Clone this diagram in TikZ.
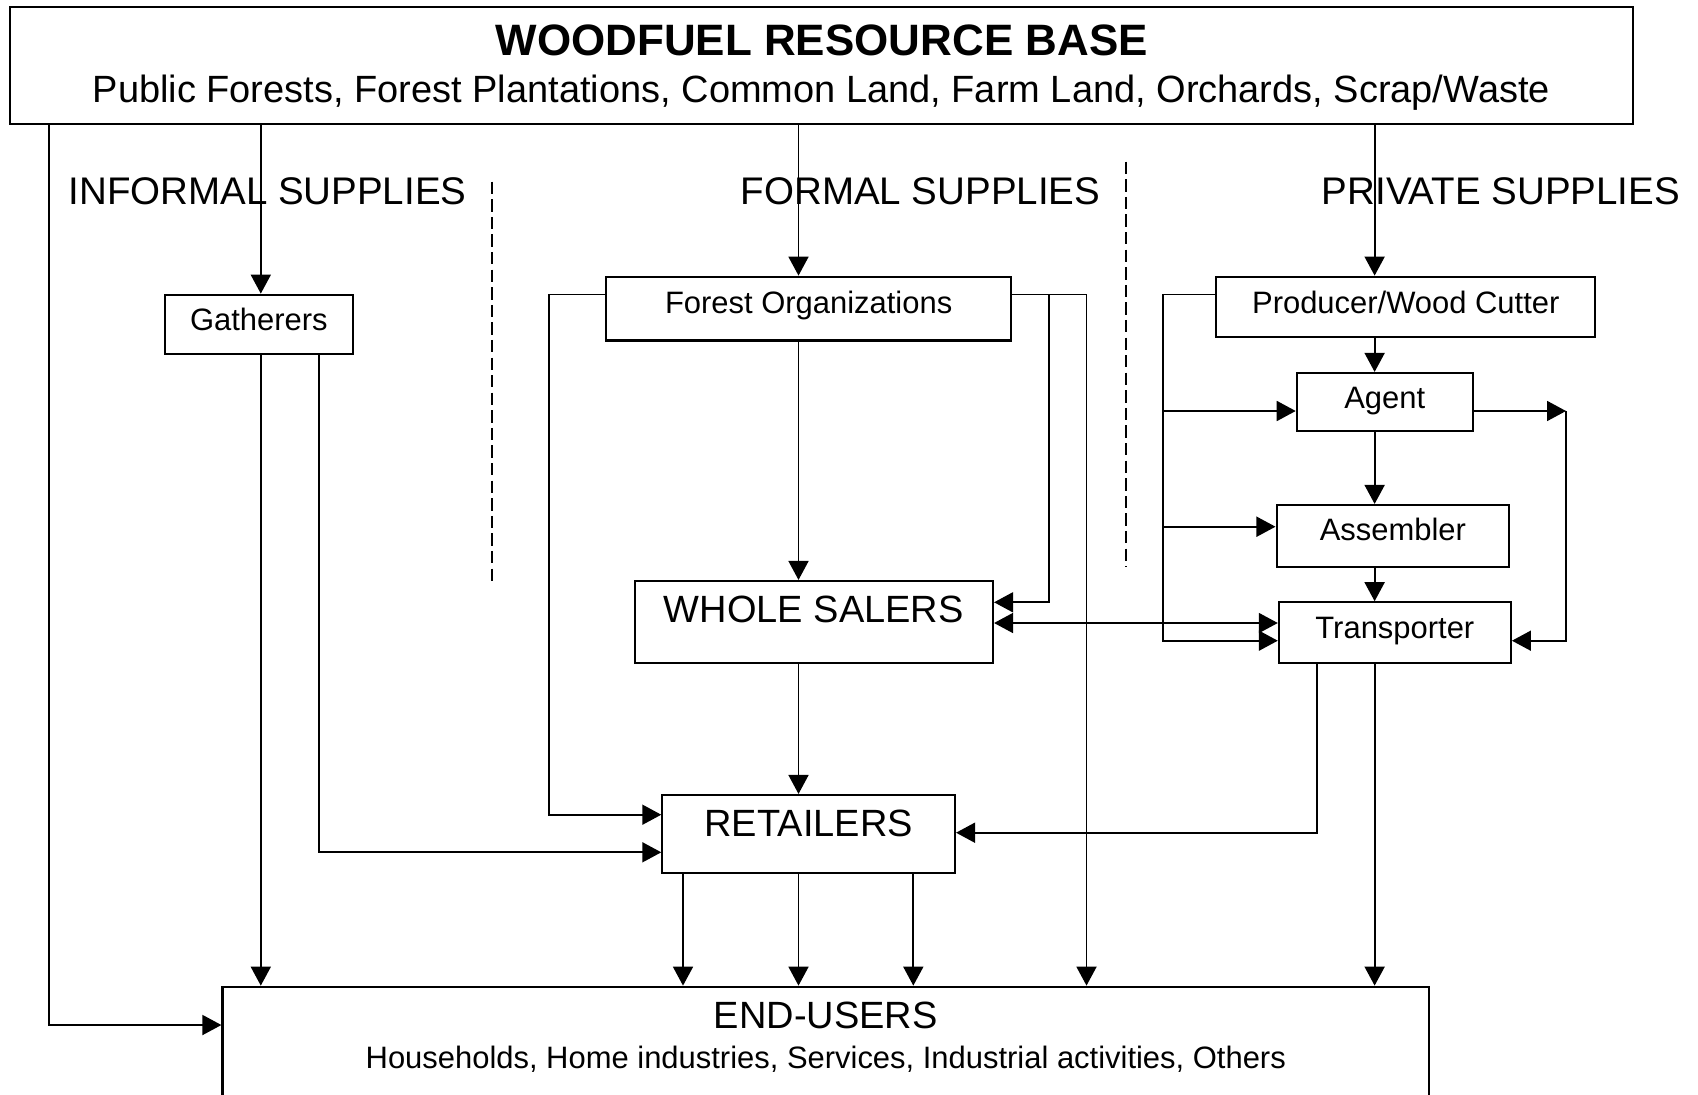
\documentclass[tikz,border=0pt]{standalone}
\usepackage{fontspec}
\setmainfont{Liberation Sans}
\usepackage{tikz}
\usetikzlibrary{arrows.meta}

\newcommand\ftitle{\fontsize{12.5}{15}\selectfont\bfseries}
\newcommand\fbig{\fontsize{10.8}{13}\selectfont}
\newcommand\fhead{\fontsize{10.95}{13}\selectfont}
\newcommand\fsmall{\fontsize{8.8}{10.5}\selectfont}

\begin{document}
\begin{tikzpicture}[
    x=0.01cm, y=-0.01cm,
    box/.style={draw, line width=0.6pt, inner sep=0pt, anchor=base, align=center},
    heading/.style={anchor=base, inner sep=0pt, font=\fbig},
    arrow/.style={-{Triangle[length=1.9mm, width=2mm]}, line width=0.5pt},
    twoway/.style={{Triangle[length=1.9mm, width=2mm]}-{Triangle[length=1.9mm, width=2mm]}, line width=0.5pt},
    divider/.style={line width=0.5pt, dash pattern=on 3.5pt off 1.5pt}
]
\useasboundingbox (0,0) rectangle (1698,1094);
\clip (0,0) rectangle (1698,1094);

\node[box, font=\ftitle, minimum width=16.217cm, text height=0.493cm, text depth=0.683cm] (wrb) at (821.65,56) {WOODFUEL RESOURCE BASE};
\node[heading] (wrbsub) at (821.3,103) {Public Forests, Forest Plantations, Common Land, Farm Land, Orchards, Scrap/Waste};

\node[heading, font=\fhead] (informal) at (267.5,204) {INFORMAL SUPPLIES};
\node[heading, font=\fhead] (formal) at (920.5,204) {FORMAL SUPPLIES};
\node[heading, font=\fhead] (private) at (1500.9,204) {PRIVATE SUPPLIES};

\node[box, font=\fsmall, minimum width=1.881cm, text height=0.353cm, text depth=0.24cm] (gath) at (258.85,330) {Gatherers};
\node[box, font=\fsmall, minimum width=4.045cm, text height=0.363cm, text depth=0.275cm] (forg) at (808.65,313) {Forest Organizations};
\node[box, font=\fsmall, minimum width=3.785cm, text height=0.363cm, text depth=0.237cm] (prod) at (1405.75,313) {Producer/Wood Cutter};
\node[box, font=\fsmall, minimum width=1.758cm, text height=0.353cm, text depth=0.224cm] (agt) at (1384.7,408.3) {Agent};
\node[box, font=\fsmall, minimum width=2.326cm, text height=0.35cm, text depth=0.267cm] (asm) at (1392.9,540) {Assembler};
\node[box, font=\fsmall, minimum width=2.319cm, text height=0.36cm, text depth=0.244cm] (trans) at (1394.85,638.3) {Transporter};
\node[box, font=\fbig, minimum width=3.582cm, text height=0.417cm, text depth=0.40cm] (ws) at (813.8,622.7) {WHOLE SALERS};
\node[box, font=\fbig, minimum width=2.925cm, text height=0.417cm, text depth=0.36cm] (ret) at (808.65,836.7) {RETAILERS};
\node[box, font=\fbig, minimum width=12.059cm, text height=0.416cm, text depth=0.95cm] (eu) at (825.75,1028.3) {END-USERS};
\node[heading, font=\fsmall] (eusub) at (825.75,1068.3) {Households, Home industries, Services, Industrial activities, Others};

\draw[divider] (491.7,181.7) -- (491.7,582.6);
\draw[divider] (1126.3,161.7) -- (1126.3,566.7);

\coordinate (xg) at (260.8,0);
\coordinate (xf) at (798.5,0);
\coordinate (xp) at (1374.6,0);
\coordinate (xr1) at (683,0);
\coordinate (xr2) at (913.3,0);
\coordinate (yf) at (0,294.5);
\coordinate (ya) at (0,411);
\coordinate (ys) at (0,526.7);
\coordinate (yb) at (0,623);
\coordinate (bendL) at (49.3,1025);
\coordinate (bendG) at (318.8,852.3);
\coordinate (bendF) at (549.2,814.7);
\coordinate (bendO) at (1086.5,294.5);
\coordinate (bendW) at (1049,602.3);
\coordinate (bendP) at (1163.3,640.7);
\coordinate (bendA) at (1566,640.7);
\coordinate (bendT) at (1317,832.7);

\draw[arrow] (wrb.south -| bendL) |- (eu.west |- bendL);
\draw[arrow] (wrb.south -| xg) -- (gath.north -| xg);
\draw[arrow] (wrb.south -| xf) -- (forg.north -| xf);
\draw[arrow] (wrb.south -| xp) -- (prod.north -| xp);

\draw[arrow] (gath.south -| xg) -- (eu.north -| xg);
\draw[arrow] (gath.south -| bendG) |- (ret.west |- bendG);

\draw[arrow] (forg.west |- yf) -| (bendF) -- (ret.west |- bendF);
\draw[arrow] (forg.south -| xf) -- (ws.north -| xf);
\draw[arrow] (forg.east |- bendO) -| (eu.north -| bendO);
\draw[arrow] (bendW |- bendO) |- (ws.east |- bendW);
\draw[twoway] (ws.east |- yb) -- (trans.west |- yb);
\draw[arrow] (ws.south -| xf) -- (ret.north -| xf);

\draw[arrow] (ret.south -| xr1) -- (eu.north -| xr1);
\draw[arrow] (ret.south -| xf) -- (eu.north -| xf);
\draw[arrow] (ret.south -| xr2) -- (eu.north -| xr2);

\draw[arrow] (prod.south -| xp) -- (agt.north -| xp);
\draw[arrow] (agt.south -| xp) -- (asm.north -| xp);
\draw[arrow] (asm.south -| xp) -- (trans.north -| xp);
\draw[arrow] (prod.west |- yf) -| (bendP) -- (trans.west |- bendP);
\draw[arrow] (bendP |- ya) -- (agt.west |- ya);
\draw[arrow] (bendP |- ys) -- (asm.west |- ys);
\draw[arrow] (agt.east |- ya) -- (bendA |- ya);
\draw[arrow] (bendA |- ya) |- (trans.east |- bendA);
\draw[arrow] (trans.south -| bendT) |- (ret.east |- bendT);
\draw[arrow] (trans.south -| xp) -- (eu.north -| xp);

\end{tikzpicture}
\end{document}
